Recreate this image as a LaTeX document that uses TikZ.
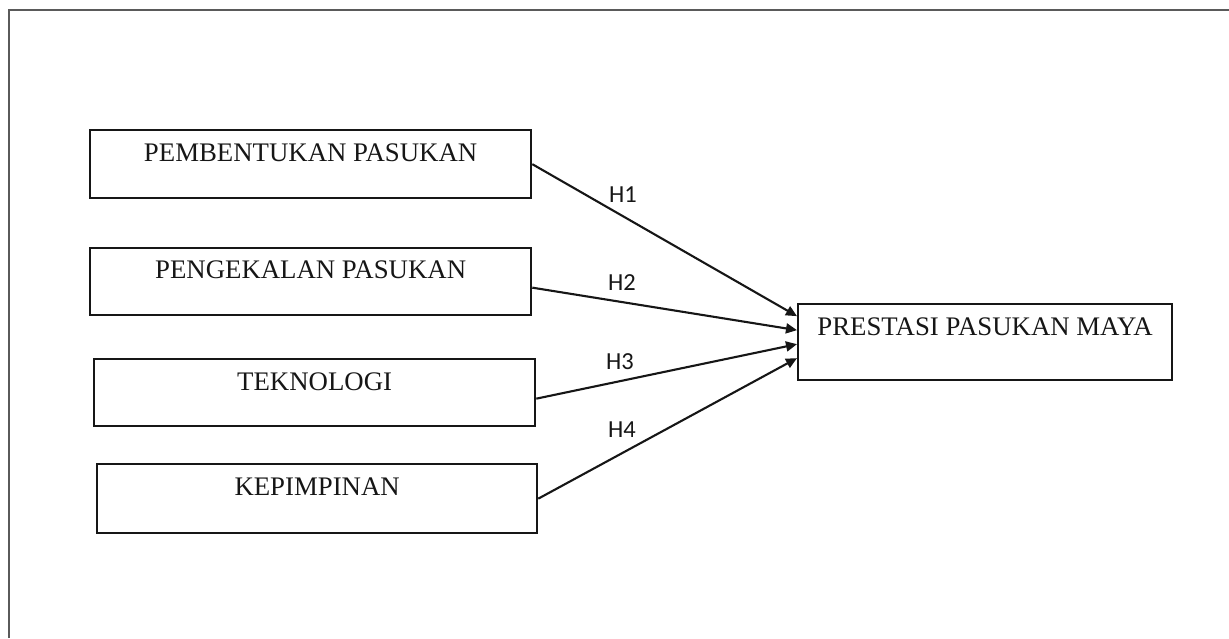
\documentclass[tikz,border=0pt]{standalone}
\usepackage{fontspec}
\setmainfont{Liberation Serif}
\newfontfamily\lblfont{Carlito}
\usetikzlibrary{arrows.meta}
\definecolor{framegray}{HTML}{5A5A5A}
\definecolor{ink}{HTML}{161616}
\tikzset{
  x=1pt, y=-1pt,
  varbox/.style={draw=ink, line width=2.3pt, inner sep=0pt, anchor=north west},
  boxtext/.style={font=\fontsize{26.8}{29}\selectfont, text=ink, inner sep=0pt, anchor=center},
  hyparrow/.style={draw=ink, line width=2.1pt, -{Triangle[length=11pt,width=10pt]}},
  hyplabel/.style={font=\lblfont\fontsize{24.5}{26}\selectfont, text=ink, inner sep=0pt}
}
\begin{document}
\begin{tikzpicture}
\useasboundingbox (0,0) rectangle (1229,638);
% open frame (top and left only)
\draw[framegray, line width=2pt] (8.5,638) -- (8.5,10) -- (1229,10);

% boxes
\node[varbox, minimum width=441pt, minimum height=68pt] (b1) at (89,129) {};
\node[varbox, minimum width=441pt, minimum height=67pt] (b2) at (89,247) {};
\node[varbox, minimum width=441pt, minimum height=67pt] (b3) at (93,358) {};
\node[varbox, minimum width=440pt, minimum height=69pt] (b4) at (96,463) {};
\node[varbox, minimum width=374pt, minimum height=76pt] (t) at (797,303) {};

\node[boxtext] (b1t) at ([yshift=-23.5pt]b1.north) {PEMBENTUKAN PASUKAN};
\node[boxtext] (b2t) at ([yshift=-23pt]b2.north) {PENGEKALAN PASUKAN};
\node[boxtext] (b3t) at ([yshift=-23.5pt]b3.north) {TEKNOLOGI};
\node[boxtext] (b4t) at ([yshift=-24pt]b4.north) {KEPIMPINAN};
\node[boxtext] (tt) at ([yshift=-24pt]t.north) {PRESTASI PASUKAN MAYA};

% connector end points on target
\coordinate (e1) at ([yshift=26pt]t.west);
\coordinate (e2) at ([yshift=12pt]t.west);
\coordinate (e3) at ([yshift=-2pt]t.west);
\coordinate (e4) at ([yshift=-16pt]t.west);

\draw[hyparrow] (b1.east) -- (e1);
\draw[hyparrow] ([yshift=-6pt]b2.east) -- (e2);
\draw[hyparrow] ([yshift=-6pt]b3.east) -- (e3);
\draw[hyparrow] (b4.east) -- (e4);

\node[hyplabel] (h1) at (623,195) {H1};
\node[hyplabel] (h2) at (622,283) {H2};
\node[hyplabel] (h3) at (620,362) {H3};
\node[hyplabel] (h4) at (622,430) {H4};
\end{tikzpicture}
\end{document}
